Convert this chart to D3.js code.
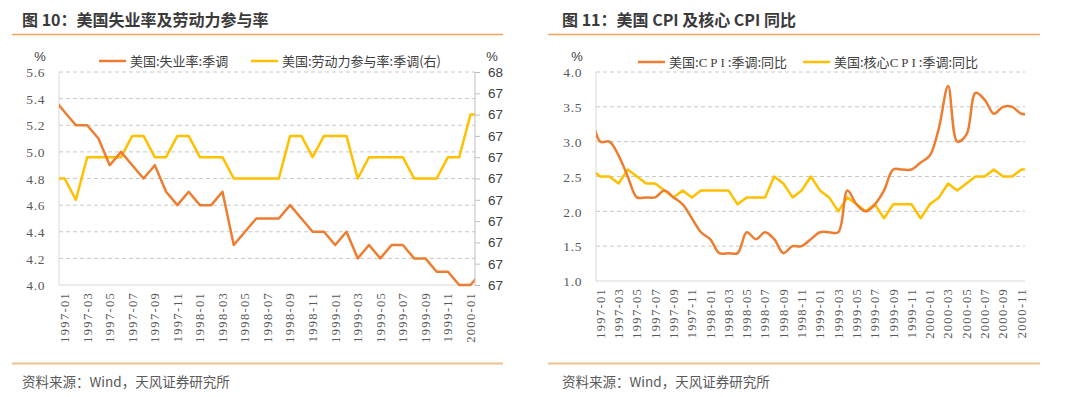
<!DOCTYPE html>
<html>
<head>
<meta charset="utf-8">
<script src="https://cdn.jsdelivr.net/npm/d3@7"></script>
<style>
  body { margin: 0; background: #fff; }
</style>
</head>
<body>
<svg id="chart" width="1080" height="397"></svg>
<script>
// months, first entry is 1996-12 (index -1), 1997-01 is index 0
var months = [
  "1996-12",
  "1997-01","1997-02","1997-03","1997-04","1997-05","1997-06","1997-07","1997-08","1997-09","1997-10","1997-11","1997-12",
  "1998-01","1998-02","1998-03","1998-04","1998-05","1998-06","1998-07","1998-08","1998-09","1998-10","1998-11","1998-12",
  "1999-01","1999-02","1999-03","1999-04","1999-05","1999-06","1999-07","1999-08","1999-09","1999-10","1999-11","1999-12",
  "2000-01","2000-02","2000-03","2000-04","2000-05","2000-06","2000-07","2000-08","2000-09","2000-10","2000-11","2000-12"
];

// 1996-12 .. 2000-02
var unemp = [5.4,
  5.3,5.2,5.2,5.1,4.9,5.0,4.9,4.8,4.9,4.7,4.6,4.7,
  4.6,4.6,4.7,4.3,4.4,4.5,4.5,4.5,4.6,4.5,4.4,4.4,
  4.3,4.4,4.2,4.3,4.2,4.3,4.3,4.2,4.2,4.1,4.1,4.0,
  4.0,4.1];
var lfpr = [67.0,
  67.0,66.9,67.1,67.1,67.1,67.1,67.2,67.2,67.1,67.1,67.2,67.2,
  67.1,67.1,67.1,67.0,67.0,67.0,67.0,67.0,67.2,67.2,67.1,67.2,
  67.2,67.2,67.0,67.1,67.1,67.1,67.1,67.0,67.0,67.0,67.1,67.1,
  67.3,67.3];

// 1996-12 .. 2000-12
var cpi = [3.4,
  3.0,3.0,2.8,2.5,2.2,2.2,2.2,2.3,2.2,2.1,1.9,1.7,
  1.6,1.4,1.4,1.4,1.7,1.6,1.7,1.6,1.4,1.5,1.5,1.6,
  1.7,1.7,1.7,2.3,2.1,2.0,2.1,2.3,2.6,2.6,2.6,2.7,
  2.8,3.2,3.8,3.0,3.1,3.7,3.6,3.4,3.5,3.5,3.4,3.4];
var coreCpi = [2.6,
  2.5,2.5,2.4,2.6,2.5,2.4,2.4,2.3,2.2,2.3,2.2,2.3,
  2.3,2.3,2.3,2.1,2.2,2.2,2.2,2.5,2.4,2.2,2.3,2.5,
  2.3,2.2,2.0,2.2,2.1,2.0,2.1,1.9,2.1,2.1,2.1,1.9,
  2.1,2.2,2.4,2.3,2.4,2.5,2.5,2.6,2.5,2.5,2.6,2.6];

var leftTicks = ["1997-01","1997-03","1997-05","1997-07","1997-09","1997-11",
  "1998-01","1998-03","1998-05","1998-07","1998-09","1998-11",
  "1999-01","1999-03","1999-05","1999-07","1999-09","1999-11","2000-01"];
var rightTicks = leftTicks.concat(["2000-03","2000-05","2000-07","2000-09","2000-11"]);

var unempTicks = [4.0,4.2,4.4,4.6,4.8,5.0,5.2,5.4,5.6];
var lfprTicks = [66.5,66.6,66.7,66.8,66.9,67.0,67.1,67.2,67.3,67.4,67.5];
var cpiTicks = [1.0,1.5,2.0,2.5,3.0,3.5,4.0];

var ORANGE = "#ED7D31", YELLOW = "#FFC000";
var SERIF = "'Liberation Serif', 'DejaVu Serif', serif";
var SANS = "'Liberation Sans', Arial, sans-serif";
var CJK = "'Noto Sans CJK SC', sans-serif";
var svg = d3.select("#chart");

function monthIdx(m) { return months.indexOf(m) - 1; }

function header(x0, x1, tx, title, source) {
  svg.append("text")
    .attr("x", tx).attr("y", 26)
    .style("font-family", CJK).style("font-size", "16px").style("font-weight", "700").style("fill", "#3a3a3a")
    .text(title);
  svg.append("line").attr("x1", x0).attr("x2", x1).attr("y1", 34.5).attr("y2", 34.5)
    .style("stroke", "#EDA462").style("stroke-width", 1.5);
  svg.append("line").attr("x1", x0).attr("x2", x1).attr("y1", 363.5).attr("y2", 363.5)
    .style("stroke", "#F3BF8C").style("stroke-width", 2);
  svg.append("text")
    .attr("x", tx).attr("y", 387)
    .style("font-family", CJK).style("font-size", "13.5px").style("fill", "#595959")
    .text(source);
}

function legendItem(x, y, color, label) {
  svg.append("line").attr("x1", x).attr("x2", x + 27).attr("y1", y).attr("y2", y)
    .style("stroke", color).style("stroke-width", 2.5);
  svg.append("text")
    .attr("x", x + 31).attr("y", y + 4.5)
    .style("font-family", CJK).style("font-size", "13px").style("fill", "#404040")
    .html(label);
}

function plot(cfg) {
  var x = d3.scaleLinear().domain(cfg.xDomain).range([cfg.left, cfg.right]);
  var y = d3.scaleLinear().domain([cfg.yTicks[0], cfg.yTicks[cfg.yTicks.length - 1]])
    .range([cfg.bottom, cfg.top]);
  var g = svg.append("g");

  // dashed grid
  g.selectAll(".grid").data(cfg.yTicks.slice(1)).enter().append("line")
    .attr("x1", cfg.left).attr("x2", cfg.right)
    .attr("y1", function(d) { return y(d); }).attr("y2", function(d) { return y(d); })
    .style("stroke", "#c8c8c8").style("stroke-dasharray", "4,3").style("stroke-width", 1);

  // axis lines
  g.append("line").attr("x1", cfg.left).attr("x2", cfg.left).attr("y1", cfg.top).attr("y2", cfg.bottom)
    .style("stroke", "#d9d9d9");
  g.append("line").attr("x1", cfg.left).attr("x2", cfg.right).attr("y1", cfg.bottom).attr("y2", cfg.bottom)
    .style("stroke", "#d9d9d9");

  var ya = g.append("g").attr("transform", "translate(" + (cfg.left - 14) + ",0)")
    .call(d3.axisLeft(y).tickValues(cfg.yTicks).tickFormat(d3.format(".1f")).tickSize(0).tickPadding(0));
  ya.select(".domain").remove();
  ya.attr("font-family", null).attr("font-size", null);
  ya.selectAll("text").attr("dy", "0.35em")
    .style("font-family", SERIF).style("font-size", "13.5px").style("fill", "#595959")
    .style("letter-spacing", "0.6px");

  svg.append("text").attr("x", cfg.left - 19).attr("y", cfg.top - 11)
    .attr("text-anchor", "middle")
    .style("font-family", SANS).style("font-size", "13px").style("fill", "#404040")
    .text("%");

  // x labels, rotated
  var xa = g.append("g").attr("transform", "translate(0," + (cfg.bottom + 7) + ")");
  xa.selectAll("text").data(cfg.xTicks).enter().append("text")
    .attr("transform", function(d) { return "translate(" + x(monthIdx(d)) + ",0) rotate(-90)"; })
    .attr("text-anchor", "end").attr("dy", "0.35em")
    .style("font-family", SERIF).style("font-size", "12.5px").style("fill", "#595959")
    .style("letter-spacing", "1.3px")
    .text(function(d) { return d; });

  var clipId = "clip" + cfg.left;
  svg.append("clipPath").attr("id", clipId).append("rect")
    .attr("x", cfg.left).attr("y", cfg.top - 10)
    .attr("width", cfg.right - cfg.left).attr("height", cfg.bottom - cfg.top + 20);

  cfg.series.forEach(function(s) {
    var ys = s.y || y;
    var line = d3.line()
      .x(function(d, i) { return x(i - 1); })
      .y(function(d) { return ys(d); })
      .curve(s.curve || d3.curveLinear);
    g.append("path").datum(s.values)
      .attr("clip-path", "url(#" + clipId + ")")
      .attr("d", line)
      .style("fill", "none").style("stroke", s.color).style("stroke-width", 2.5)
      .style("stroke-linejoin", "round");
  });
  return { x: x, y: y, g: g };
}

// ---- left panel
header(12, 503, 22, "图 10：美国失业率及劳动力参与率", "资料来源：Wind，天风证券研究所");

var yRight = d3.scaleLinear().domain([66.5, 67.5]).range([285, 72]);
var p1 = plot({
  left: 59, right: 475, top: 72, bottom: 285,
  xDomain: [-0.5, 36.4],
  yTicks: unempTicks,
  xTicks: leftTicks,
  series: [
    { values: lfpr, color: YELLOW, y: yRight },
    { values: unemp, color: ORANGE }
  ]
});

// right axis of left panel
var ra = p1.g.append("g").attr("transform", "translate(475,0)")
  .call(d3.axisRight(yRight).tickValues(lfprTicks).tickFormat(d3.format(".0f")).tickSize(5).tickPadding(8));
ra.select(".domain").style("stroke", "#bfbfbf").attr("d", "M0,72V285");
ra.selectAll("line").style("stroke", "#bfbfbf");
ra.attr("font-family", null).attr("font-size", null);
ra.selectAll("text")
  .style("font-family", SANS).style("font-size", "13.5px").style("fill", "#404040");
svg.append("text").attr("x", 492).attr("y", 61).attr("text-anchor", "middle")
  .style("font-family", SANS).style("font-size", "13px").style("fill", "#404040")
  .text("%");

legendItem(99, 61, ORANGE, "美国:失业率:季调");
legendItem(251, 61, YELLOW, "美国:劳动力参与率:季调(右)");

// ---- right panel
header(548, 1040, 562, "图 11：美国 CPI 及核心 CPI 同比", "资料来源：Wind，天风证券研究所");

plot({
  left: 596, right: 1025, top: 72, bottom: 281,
  xDomain: [-0.47, 46.4],
  yTicks: cpiTicks,
  xTicks: rightTicks,
  series: [
    { values: coreCpi, color: YELLOW },
    { values: cpi, color: ORANGE, curve: d3.curveCatmullRom.alpha(0.5) }
  ]
});

legendItem(638, 62, ORANGE, '美国:<tspan style="font-family:\'Liberation Serif\';letter-spacing:3px">CPI</tspan>:季调:同比');
legendItem(803, 62, YELLOW, '美国:核心<tspan style="font-family:\'Liberation Serif\';letter-spacing:3px">CPI</tspan>:季调:同比');
</script>
</body>
</html>
